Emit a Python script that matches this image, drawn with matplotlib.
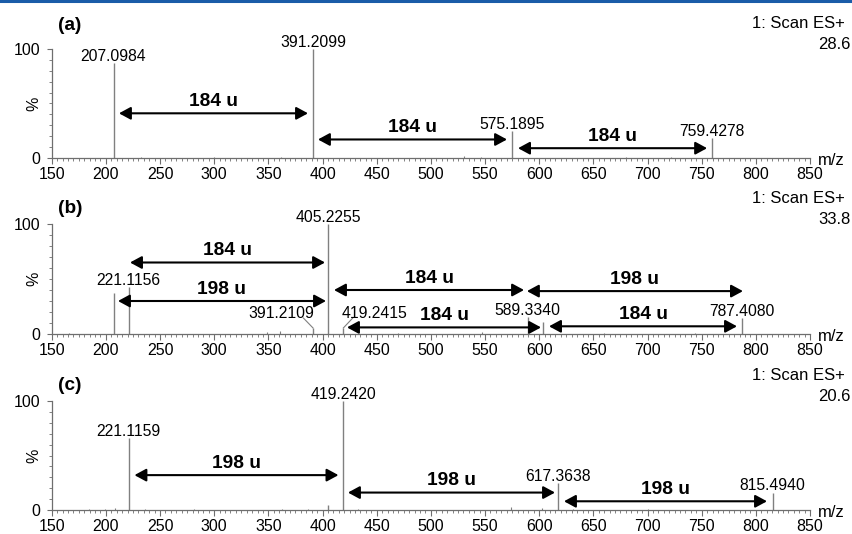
import numpy as np
import matplotlib.pyplot as plt
from matplotlib.lines import Line2D
from matplotlib.ticker import MultipleLocator, FixedLocator

plt.rcParams['font.family'] = ['Liberation Sans', 'DejaVu Sans']

# ---- panel (a) ----
a_mz = [207.0984, 391.2099, 575.1895, 759.4278]
a_int = [87, 100, 24.8, 18]
a_noise_mz = [232, 300, 362, 531, 546, 680, 722]
a_noise_int = [0.8, 0.7, 1.0, 2.0, 1.2, 0.8, 0.8]
a_arrow_from = [212.1, 395.8, 580.5]
a_arrow_to = [386.6, 570.3, 755.0]
a_arrow_y = [41, 17, 9]
a_arrow_text = ['184 u', '184 u', '184 u']
a_tic = '28.6'

# ---- panel (b) ----
b_mz = [207.1, 221.1156, 391.2109, 405.2255, 419.2415, 589.3340, 603.3, 787.4080]
b_int = [37, 43, 5.5, 100, 5.5, 15.7, 11, 14.8]
b_labeled = [False, True, True, True, True, True, False, True]
b_noise_mz = [166, 349, 361, 470, 547, 660, 744]
b_noise_int = [1.0, 1.8, 2.5, 1.0, 1.5, 1.0, 1.2]
b_arrow_from = [222.3, 211.2, 410.6, 588.7, 422.6, 609.1]
b_arrow_to = [402.3, 403.2, 586.0, 788.1, 601.7, 782.6]
b_arrow_y = [65, 30, 40, 39, 6, 7]
b_arrow_text = ['184 u', '198 u', '184 u', '198 u', '184 u', '184 u']
# labels moved aside with a leader line: m/z -> (label centre m/z, label %)
b_moved = {391.2109: (361.7, 14.5), 419.2415: (448.0, 14.5)}
b_tic = '33.8'

# ---- panel (c) ----
c_mz = [221.1159, 405.2, 419.2420, 617.3638, 815.4940]
c_int = [66, 4.5, 100, 25, 16]
c_labeled = [True, False, True, True, True]
c_noise_mz = [184, 199, 208, 236, 281, 363, 387, 433, 574, 603, 631, 700]
c_noise_int = [1.0, 1.2, 1.5, 1.0, 1.2, 1.0, 1.3, 1.0, 3.0, 2.0, 1.0, 0.8]
c_arrow_from = [226.4, 423.5, 622.9]
c_arrow_to = [414.7, 614.6, 810.3]
c_arrow_y = [32, 16, 8]
c_arrow_text = ['198 u', '198 u', '198 u']
c_tic = '20.6'

panels = [
    ('(a)', a_mz, a_int, [True] * 4, {}, a_noise_mz, a_noise_int,
     a_arrow_from, a_arrow_to, a_arrow_y, a_arrow_text, a_tic),
    ('(b)', b_mz, b_int, b_labeled, b_moved, b_noise_mz, b_noise_int,
     b_arrow_from, b_arrow_to, b_arrow_y, b_arrow_text, b_tic),
    ('(c)', c_mz, c_int, c_labeled, {}, c_noise_mz, c_noise_int,
     c_arrow_from, c_arrow_to, c_arrow_y, c_arrow_text, c_tic),
]

W, H = 852, 534
fig = plt.figure(figsize=(W / 100, H / 100), dpi=100)
# axes rectangles in pixels: (y of zero line, height)
rects = [(158, 109), (334, 110), (510, 109)]
tag_y = [1.215, 1.14, 1.14]
x0, x1 = 51.7, 810.0

peak_col = '#808080'
axis_col = '#6e6e6e'

for i, (tag, mz, inten, labeled, moved, nmz, nint,
        afrom, ato, ay, atext, tic) in enumerate(panels):
    y0, h = rects[i]
    ax = fig.add_axes([x0 / W, (H - y0) / H, (x1 - x0) / W, h / H])
    ax.set_xlim(150, 850)
    ax.set_ylim(0, 100)
    for s in ['top', 'right']:
        ax.spines[s].set_visible(False)
    for s in ['left', 'bottom']:
        ax.spines[s].set_color(axis_col)
        ax.spines[s].set_linewidth(0.9)

    ax.xaxis.set_major_locator(MultipleLocator(50))
    ax.xaxis.set_minor_locator(MultipleLocator(5))
    ax.yaxis.set_major_locator(FixedLocator([0, 100]))
    ax.yaxis.set_minor_locator(MultipleLocator(10))
    ax.tick_params(axis='x', which='major', direction='out', length=4,
                   width=0.8, color=axis_col, labelsize=11.5, pad=2.8)
    ax.tick_params(axis='x', which='minor', direction='out', length=2,
                   width=0.6, color=axis_col)
    ax.tick_params(axis='y', which='major', direction='out', length=3.5,
                   width=0.8, color=axis_col, labelsize=11.5, pad=4.5)
    ax.tick_params(axis='y', which='minor', direction='out', length=2,
                   width=0.6, color=axis_col)

    # spectrum
    ax.vlines(nmz, 0, nint, color=peak_col, lw=0.8)
    ax.vlines(mz, 0, inten, color=peak_col, lw=1.0)

    for m, v, lab in zip(mz, inten, labeled):
        if not lab:
            continue
        txt = f'{m:.4f}'
        if m in moved:
            tx, ty = moved[m]
            ax.text(tx, ty, txt, ha='center', va='baseline', fontsize=11.3)
            lx = tx + 0.7 * (m - tx)
            ax.plot([lx, m], [ty, v], color=peak_col, lw=0.8)
        else:
            ax.annotate(txt, xy=(m, v), xytext=(0, 1.5),
                        textcoords='offset points', ha='center',
                        va='baseline', fontsize=11.3, annotation_clip=False)

    # mass difference arrows
    for xa, xb, y, t in zip(afrom, ato, ay, atext):
        ax.annotate('', xy=(xb, y), xytext=(xa, y),
                    arrowprops=dict(arrowstyle='<|-|>,head_length=0.7,head_width=0.38',
                                    lw=1.5, color='black', shrinkA=0, shrinkB=0,
                                    mutation_scale=10))
        ax.annotate(t, xy=((xa + xb) / 2, y), xytext=(0, 5.2),
                    textcoords='offset points', ha='center', va='baseline',
                    fontsize=13.8, fontweight='bold')

    ax.text(0.008, tag_y[i], tag, transform=ax.transAxes, ha='left',
            va='center', fontsize=13.7, fontweight='bold')
    ax.text(1.046, 1.23, '1: Scan ES+', transform=ax.transAxes, ha='right',
            va='center', fontsize=12)
    ax.text(1.053, 1.045, tic, transform=ax.transAxes, ha='right',
            va='center', fontsize=12)
    ax.text(1.0106, -0.02, 'm/z', transform=ax.transAxes, ha='left',
            va='center', fontsize=12)
    ax.text(-0.023, 0.5, '%', transform=ax.transAxes, rotation=90,
            ha='center', va='center', fontsize=11.5)

fig.add_artist(Line2D([0, 1], [1 - 1 / H, 1 - 1 / H], color='#1a5ca8',
                      lw=2.2, transform=fig.transFigure))

fig.savefig('out.png', dpi=100)
